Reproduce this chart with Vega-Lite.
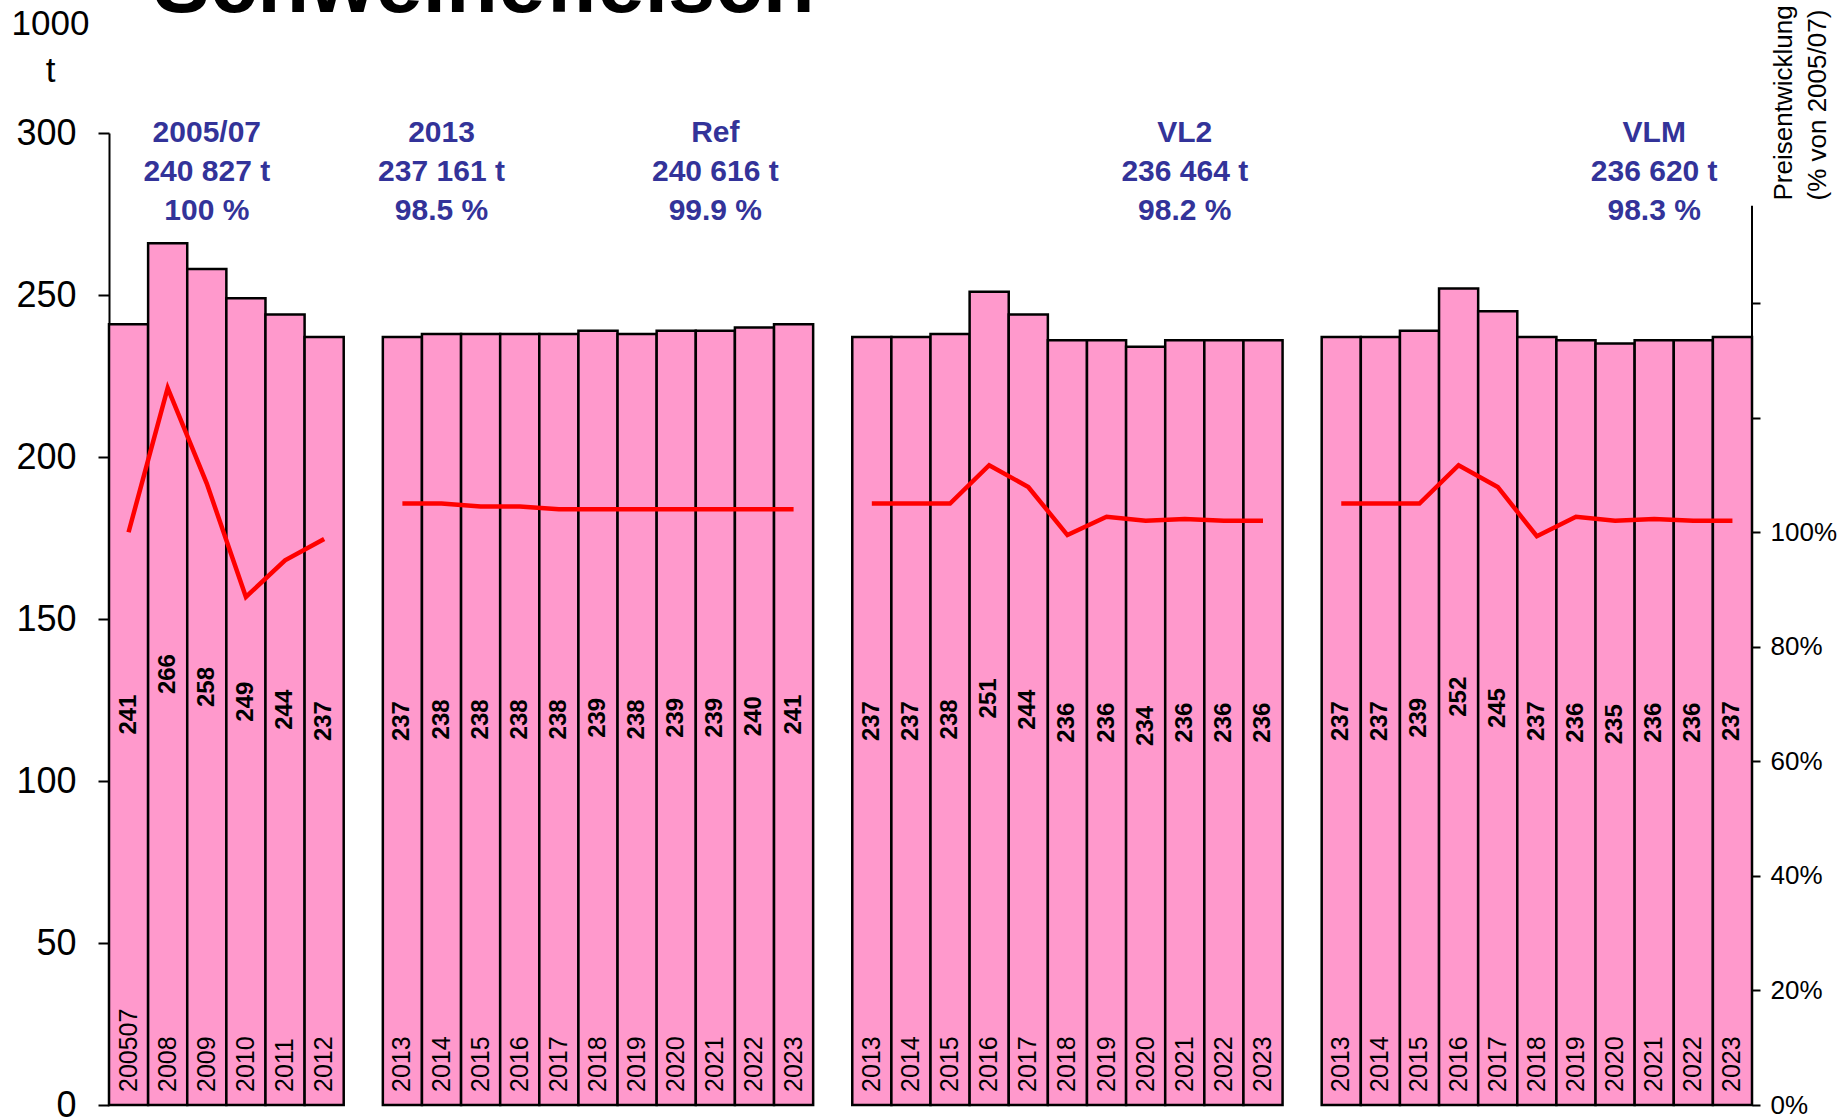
{
  "$schema": "https://vega.github.io/schema/vega-lite/v6.json",
  "width": 1643,
  "height": 972,
  "autosize": {"type": "none"},
  "padding": {"left": 109, "top": 133, "right": 89, "bottom": 15},
  "background": "white",
  "config": {
    "font": "Liberation Sans",
    "view": {"stroke": null},
    "axis": {"grid": false}
  },
  "datasets": {
    "bars": [
      {"slot": "A200507", "grp": "A", "year": "200507", "value": 241, "price": 100.0},
      {"slot": "A2008", "grp": "A", "year": "2008", "value": 266, "price": 125.2},
      {"slot": "A2009", "grp": "A", "year": "2009", "value": 258, "price": 108.5},
      {"slot": "A2010", "grp": "A", "year": "2010", "value": 249, "price": 88.7},
      {"slot": "A2011", "grp": "A", "year": "2011", "value": 244, "price": 95.1},
      {"slot": "A2012", "grp": "A", "year": "2012", "value": 237, "price": 98.8},
      {"slot": "R2013", "grp": "R", "year": "2013", "value": 237, "price": 105.0},
      {"slot": "R2014", "grp": "R", "year": "2014", "value": 238, "price": 105.0},
      {"slot": "R2015", "grp": "R", "year": "2015", "value": 238, "price": 104.5},
      {"slot": "R2016", "grp": "R", "year": "2016", "value": 238, "price": 104.5},
      {"slot": "R2017", "grp": "R", "year": "2017", "value": 238, "price": 104.0},
      {"slot": "R2018", "grp": "R", "year": "2018", "value": 239, "price": 104.0},
      {"slot": "R2019", "grp": "R", "year": "2019", "value": 238, "price": 104.0},
      {"slot": "R2020", "grp": "R", "year": "2020", "value": 239, "price": 104.0},
      {"slot": "R2021", "grp": "R", "year": "2021", "value": 239, "price": 104.0},
      {"slot": "R2022", "grp": "R", "year": "2022", "value": 240, "price": 104.0},
      {"slot": "R2023", "grp": "R", "year": "2023", "value": 241, "price": 104.0},
      {"slot": "V2013", "grp": "V", "year": "2013", "value": 237, "price": 105.0},
      {"slot": "V2014", "grp": "V", "year": "2014", "value": 237, "price": 105.0},
      {"slot": "V2015", "grp": "V", "year": "2015", "value": 238, "price": 105.0},
      {"slot": "V2016", "grp": "V", "year": "2016", "value": 251, "price": 111.7},
      {"slot": "V2017", "grp": "V", "year": "2017", "value": 244, "price": 107.9},
      {"slot": "V2018", "grp": "V", "year": "2018", "value": 236, "price": 99.5},
      {"slot": "V2019", "grp": "V", "year": "2019", "value": 236, "price": 102.7},
      {"slot": "V2020", "grp": "V", "year": "2020", "value": 234, "price": 102.0},
      {"slot": "V2021", "grp": "V", "year": "2021", "value": 236, "price": 102.3},
      {"slot": "V2022", "grp": "V", "year": "2022", "value": 236, "price": 102.0},
      {"slot": "V2023", "grp": "V", "year": "2023", "value": 236, "price": 102.0},
      {"slot": "M2013", "grp": "M", "year": "2013", "value": 237, "price": 105.0},
      {"slot": "M2014", "grp": "M", "year": "2014", "value": 237, "price": 105.0},
      {"slot": "M2015", "grp": "M", "year": "2015", "value": 239, "price": 105.0},
      {"slot": "M2016", "grp": "M", "year": "2016", "value": 252, "price": 111.7},
      {"slot": "M2017", "grp": "M", "year": "2017", "value": 245, "price": 107.9},
      {"slot": "M2018", "grp": "M", "year": "2018", "value": 237, "price": 99.3},
      {"slot": "M2019", "grp": "M", "year": "2019", "value": 236, "price": 102.7},
      {"slot": "M2020", "grp": "M", "year": "2020", "value": 235, "price": 102.0},
      {"slot": "M2021", "grp": "M", "year": "2021", "value": 236, "price": 102.3},
      {"slot": "M2022", "grp": "M", "year": "2022", "value": 236, "price": 102.0},
      {"slot": "M2023", "grp": "M", "year": "2023", "value": 237, "price": 102.0}
    ],
    "heads": [
      {"slot": "A2009", "label": "2005/07\n240 827 t\n100 %"},
      {"slot": "R2014", "label": "2013\n237 161 t\n98.5 %"},
      {"slot": "R2021", "label": "Ref\n240 616 t\n99.9 %"},
      {"slot": "V2021", "label": "VL2\n236 464 t\n98.2 %"},
      {"slot": "M2021", "label": "VLM\n236 620 t\n98.3 %"}
    ]
  },
  "encoding": {
    "x": {
      "field": "slot",
      "type": "nominal",
      "scale": {
        "domain": ["A200507", "A2008", "A2009", "A2010", "A2011", "A2012", "gap1",
          "R2013", "R2014", "R2015", "R2016", "R2017", "R2018", "R2019", "R2020", "R2021", "R2022", "R2023", "gap2",
          "V2013", "V2014", "V2015", "V2016", "V2017", "V2018", "V2019", "V2020", "V2021", "V2022", "V2023", "gap3",
          "M2013", "M2014", "M2015", "M2016", "M2017", "M2018", "M2019", "M2020", "M2021", "M2022", "M2023"],
        "paddingInner": 0,
        "paddingOuter": 0
      },
      "axis": null
    }
  },
  "resolve": {"scale": {"y": "independent"}},
  "layer": [
    {
      "data": {"name": "bars"},
      "mark": {"type": "bar", "fill": "#FF99CC", "stroke": "black", "strokeWidth": 2.5},
      "encoding": {
        "y": {
          "field": "value",
          "type": "quantitative",
          "scale": {"domain": [0, 300], "nice": false},
          "axis": {
            "orient": "left",
            "values": [0, 50, 100, 150, 200, 250, 300],
            "title": ["1000", "t"],
            "titleAngle": 0,
            "titleAlign": "center",
            "titleBaseline": "top",
            "titleX": -59,
            "titleY": -127,
            "titleFontSize": 35,
            "titleFontWeight": "normal",
            "titleColor": "black",
            "titleLineHeight": 47,
            "labelFontSize": 36,
            "labelColor": "black",
            "labelPadding": 22,
            "tickSize": 11,
            "tickWidth": 2,
            "tickColor": "black",
            "domainColor": "black",
            "domainWidth": 2
          }
        }
      }
    },
    {
      "data": {"name": "bars"},
      "mark": {"type": "text", "angle": 270, "align": "center", "baseline": "middle", "fontSize": 24, "fontWeight": "bold", "color": "black"},
      "encoding": {
        "y": {"field": "value", "type": "quantitative", "scale": {"domain": [0, 600], "nice": false}, "axis": null},
        "text": {"field": "value", "type": "quantitative", "format": "d"}
      }
    },
    {
      "data": {"name": "bars"},
      "mark": {"type": "text", "angle": 270, "align": "left", "baseline": "middle", "fontSize": 25, "dx": 13, "color": "black"},
      "encoding": {
        "y": {"datum": 0, "type": "quantitative", "scale": {"domain": [0, 300], "nice": false}, "axis": null},
        "text": {"field": "year", "type": "nominal"}
      }
    },
    {
      "data": {"name": "heads"},
      "mark": {"type": "text", "align": "center", "baseline": "middle", "fontSize": 30, "fontWeight": "bold", "color": "#333399", "lineBreak": "\n", "lineHeight": 39},
      "encoding": {
        "y": {"datum": 300, "type": "quantitative", "scale": {"domain": [0, 300], "nice": false}, "axis": null},
        "text": {"field": "label", "type": "nominal"}
      }
    },
    {
      "data": {"values": [{"title": "Schweinefleisch"}]},
      "mark": {"type": "text", "align": "left", "baseline": "alphabetic", "fontSize": 85, "fontWeight": "bold", "color": "black"},
      "encoding": {
        "x": {"datum": "A2008", "type": "nominal", "bandPosition": 0.13},
        "y": {"datum": 337.3, "type": "quantitative", "scale": {"domain": [0, 300], "nice": false}, "axis": null},
        "text": {"field": "title", "type": "nominal"}
      }
    },
    {
      "data": {"name": "bars"},
      "mark": {"type": "line", "color": "#FF0000", "strokeWidth": 4.5},
      "encoding": {
        "detail": {"field": "grp", "type": "nominal"},
        "y": {
          "field": "price",
          "type": "quantitative",
          "scale": {"domain": [0, 169.7], "nice": false},
          "axis": {
            "orient": "right",
            "values": [0, 20, 40, 60, 80, 100, 120, 140],
            "labelExpr": "datum.value <= 100 ? datum.value + '%' : ''",
            "domain": false,
            "title": ["Preisentwicklung", "(% von 2005/07)"],
            "titleAngle": 270,
            "titleAlign": "left",
            "titleBaseline": "top",
            "titleX": 18,
            "titleY": 67,
            "titleFontSize": 26,
            "titleFontWeight": "normal",
            "titleColor": "black",
            "titleLineHeight": 34,
            "labelFontSize": 26,
            "labelColor": "black",
            "labelPadding": 10,
            "tickSize": 8,
            "tickWidth": 2,
            "tickColor": "black"
          }
        }
      }
    },
    {
      "data": {"values": [{}]},
      "mark": {"type": "rule", "color": "black", "strokeWidth": 2},
      "encoding": {
        "x": {"datum": "M2023", "type": "nominal", "bandPosition": 1},
        "y": {"datum": 0, "type": "quantitative", "scale": {"domain": [0, 169.7], "nice": false}, "axis": null},
        "y2": {"datum": 157}
      }
    }
  ]
}
